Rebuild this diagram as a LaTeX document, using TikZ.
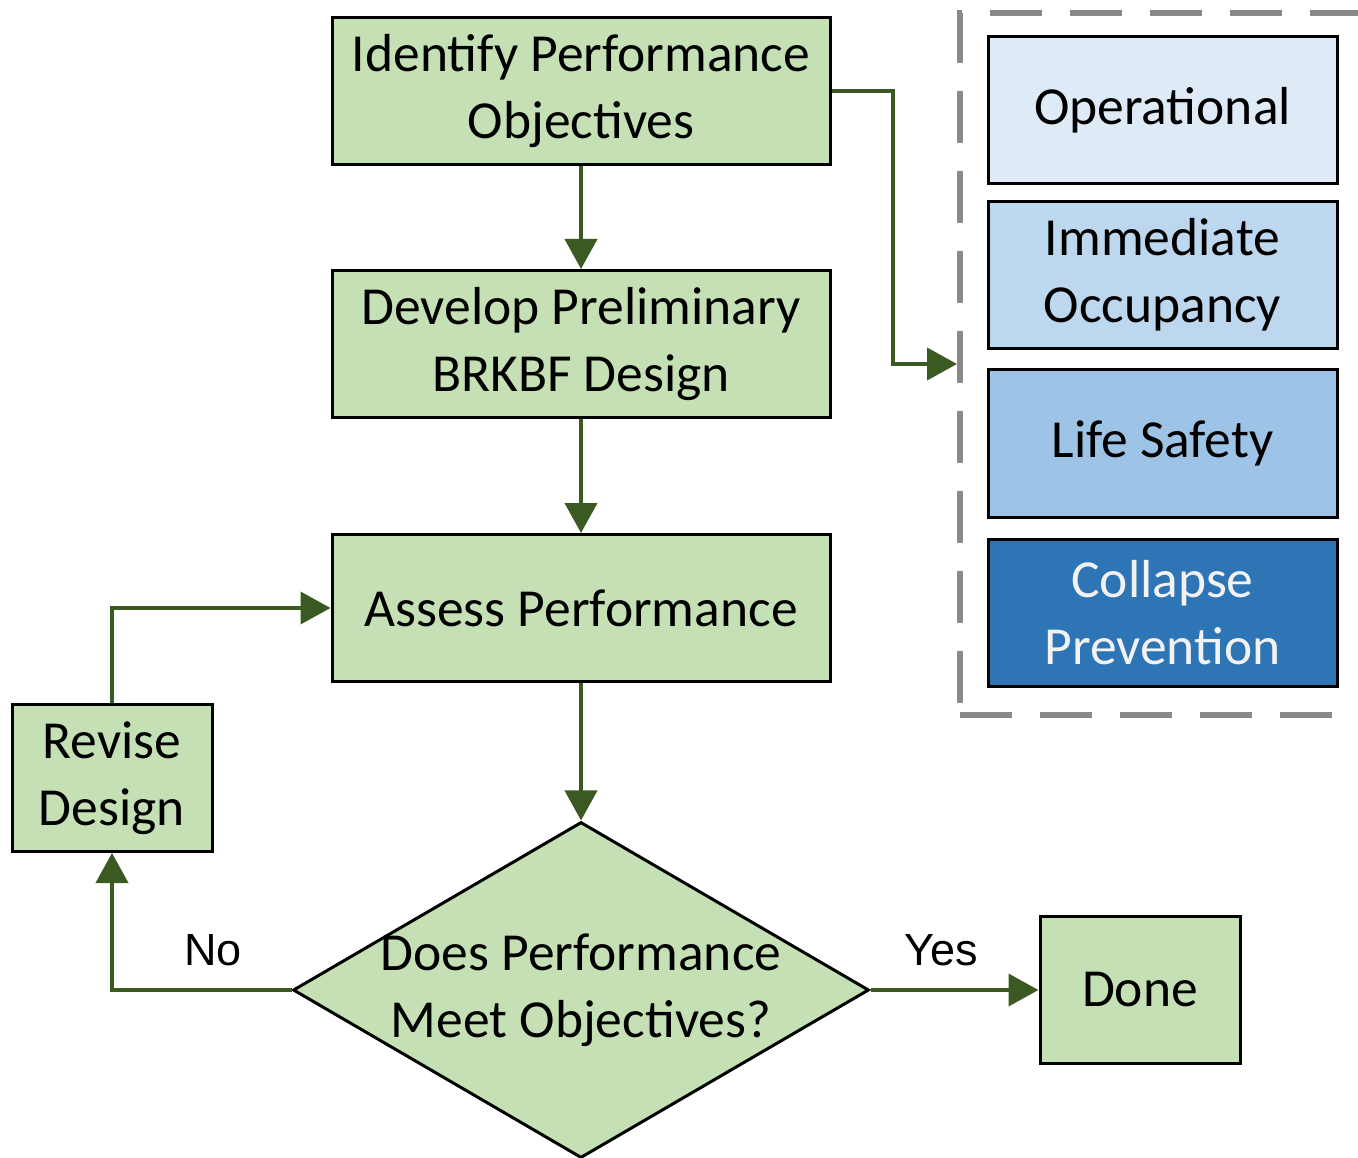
\documentclass[tikz,border=0pt]{standalone}
\usepackage{fontspec}
\setmainfont{Carlito}
\newfontfamily\arialfont{Liberation Sans}
\usetikzlibrary{arrows.meta,shapes.geometric}
\definecolor{boxgreen}{HTML}{C5E0B4}
\definecolor{arrgreen}{HTML}{3B5A22}
\definecolor{blueA}{HTML}{DEEBF7}
\definecolor{blueB}{HTML}{BDD7EE}
\definecolor{blueC}{HTML}{9DC3E6}
\definecolor{blueD}{HTML}{2E75B6}
\definecolor{dashgray}{HTML}{898989}
\begin{document}
\begin{tikzpicture}[x=1pt,y=-1pt,
  boxtext/.style={font=\fontsize{53.5}{67}\selectfont, align=center},
  flowbox/.style={boxtext, draw=black, line width=3pt, fill=boxgreen, inner sep=0pt,
    minimum width=498pt, minimum height=147pt},
  smallbox/.style={boxtext, draw=black, line width=3pt, fill=boxgreen, inner sep=0pt,
    minimum width=200pt, minimum height=147pt},
  levelbox/.style={boxtext, draw=black, line width=3pt, inner sep=0pt,
    minimum width=349pt, minimum height=147pt},
  decision/.style={diamond, draw=black, line width=3pt, fill=boxgreen, inner sep=0pt,
    minimum width=576pt, minimum height=336pt, aspect=1.714},
  flow/.style={draw=arrgreen, line width=4pt, -{Triangle[length=30pt,width=32pt]}},
  yesno/.style={font=\arialfont\fontsize{45}{45}\selectfont, text=black, inner sep=0pt}
]
\useasboundingbox (0,0) rectangle (1358,1158);

% dashed group (its right side runs past the picture's edge)
\node[draw=dashgray, line width=6pt, dash pattern=on 52pt off 28pt,
  minimum width=410pt, minimum height=702pt, inner sep=0pt] (grp) at (1165,364) {};

% performance levels
\node[levelbox, fill=blueA] (op) at (1162.5,110.5) {Operational};
\node[levelbox, fill=blueB] (io) at (1162.5,275) {Immediate\\Occupancy};
\node[levelbox, fill=blueC] (ls) at (1162.5,443.5) {Life Safety};
\node[levelbox, fill=blueD, text=white!95!black] (cp) at (1162.5,613) {Collapse\\Prevention};

% flow boxes
\node[flowbox] (b1) at (581,91.5) {Identify Performance\\Objectives};
\node[flowbox] (b2) at (581,344) {Develop Preliminary\\BRKBF Design};
\node[flowbox] (b3) at (581,608) {Assess Performance};
\node[decision] (dec) at (581,990) {};
\node[boxtext, inner sep=0pt] (dectext) at (dec.center) {Does Performance\\Meet Objectives?};
\node[smallbox] (rev) at (112,778) {Revise\\Design};
\node[smallbox] (done) at (1140,990) {Done};

% connectors
\draw[flow] (b1) -- (b2);
\draw[flow] (b2) -- (b3);
\draw[flow] (b3) -- (dec);
\draw[flow] (b1.east) -- ++(61,0) |- (grp.west);
\draw[flow] (dec.west) -| (rev.south);
\draw[flow] (rev.north) |- (b3.west);
\draw[flow] (dec.east) -- (done.west);

% labels
\node[yesno] (no) at (213,950) {No};
\node[yesno] (yes) at (941,950) {Yes};
\end{tikzpicture}
\end{document}
